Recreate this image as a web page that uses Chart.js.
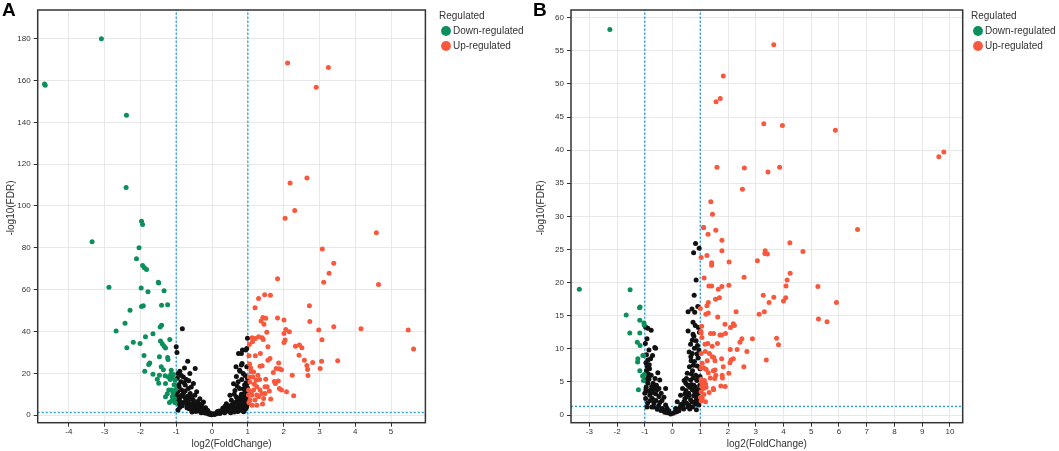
<!DOCTYPE html>
<html>
<head>
<meta charset="utf-8">
<script src="https://cdn.jsdelivr.net/npm/chart.js@4.4.1/dist/chart.umd.min.js"></script>
<style>
  body { margin: 0; background: #fff; font-family: "Liberation Sans", Arial, sans-serif; }
  .panel { position: absolute; top: 0; height: 451px; }
  .tag { position: absolute; top: -1px; font: bold 19px "Liberation Sans", Arial, sans-serif; color: #000; }
</style>
</head>
<body>
<div class="panel" style="left:0;width:530px"><canvas id="chartA"></canvas></div>
<div class="panel" style="left:530px;width:529px"><canvas id="chartB"></canvas></div>
<div class="tag" style="left:2px">A</div>
<div class="tag" style="left:533px">B</div>
<script>
// cut-offs: |log2FC| > 1 and FDR < 0.05
const fcCutoff = [-1, 1];
const fdrCutoff = 1.3;

// panel A  [log2(FoldChange), -log10(FDR)]
const aDown = [
  [-4.66,157.7],[-4.68,158.3],[-3.09,180],[-2.39,143.4],[-2.40,108.9],[-3.35,82.9],[-1.97,92.7],[-1.94,91.2],
  [-2.04,80],[-2.11,74.8],[-1.94,71.5],[-1.89,70.5],[-1.83,69.7],[-2.88,61.1],[-1.98,60.8],[-1.79,59],
  [-1.50,63.6],[-1.49,63.2],[-1.34,59.5],[-1.41,52.6],[-1.24,52.8],[-1.92,52.3],[-1.97,52],[-2.29,50.2],
  [-2.43,44],[-2.68,40.2],[-1.41,43],[-1.45,42.1],[-1.65,38.9],[-1.86,37.5],[-2.01,34.3],[-2.20,34.9],
  [-2.38,32.2],[-1.44,35.4],[-1.39,34.1],[-1.34,32.9],[-1.30,32.1],[-1.18,36.2],[-1.90,28.5],[-1.47,27.9],
  [-1.24,27.6],[-1.23,26.6],[-1.74,25],[-1.77,24.2],[-1.88,21],[-1.42,23.1],[-1.36,21.7],[-1.65,19.6],
  [-1.47,19.1],[-1.31,18.8],[-1.14,21.5],[-1.15,19.6],[-1.22,18.3],[-1.11,17.9],[-1.53,17.2],[-1.49,15.3],
  [-1.30,15.2],[-1.03,16.7],[-1.21,12],[-1.14,12],[-1.02,12.3],[-1.30,8.8],[-1.11,8.8],[-1.05,8],
  [-1.19,6.1],[-1.03,5.9],[-1.08,19.5],[-1.17,17],[-1.06,14.5],[-1.25,10.2],[-1.09,10.5],[-1.13,6.8]
];
const aUp = [
  [2.11,168.4],[3.25,166.2],[2.91,156.8],[2.65,113.4],[2.18,111],[2.31,97.9],[2.04,94.1],[4.59,87.2],
  [3.08,79.4],[3.40,72.6],[3.27,67.9],[1.83,65.2],[3.12,63.6],[4.65,62.5],[1.47,57.6],[1.63,57.3],
  [1.30,55.8],[1.20,51.4],[2.72,52.3],[2.73,44.8],[3.40,42.3],[4.16,41.3],[5.48,40.7],[5.63,31.6],
  [2.98,40.7],[3.07,36],[2.01,39.1],[2.06,41],[2.16,39.9],[1.83,46.4],[2.01,45.5],[1.42,46.7],
  [1.50,46.3],[1.37,45],[1.45,43.5],[1.53,39.6],[1.12,37],[1.21,36.7],[1.30,37.5],[1.40,37],
  [1.43,36.2],[1.04,33.8],[1.56,32.7],[2.33,32.9],[2.44,33.5],[2.51,32.2],[2.01,34.8],[2.04,35.9],
  [1.35,29.5],[1.62,27.1],[1.56,26.2],[2.58,26.2],[2.81,25.2],[3.06,25.8],[3.51,26],[2.43,28.7],
  [2.65,23.8],[2.67,21.8],[2.68,19],[3.02,22.3],[2.24,19.1],[1.86,25],[1.88,22.2],[1.94,21.7],
  [1.79,22.3],[1.71,20.4],[1.03,28.4],[1.21,28.4],[1.09,20.7],[1.16,20.6],[1.28,19.1],[1.33,17.1],
  [1.50,17.2],[1.34,23.4],[1.40,23.6],[1.74,16.1],[1.77,15.2],[1.85,16.3],[1.88,12.8],[1.94,12],
  [2.08,11.2],[2.28,9.3],[1.06,15.9],[1.16,12],[1.25,13.6],[1.34,12],[1.48,13.6],[1.54,13.6],
  [1.60,11.6],[1.02,9.6],[1.11,9.6],[1.25,9.6],[1.39,10.4],[1.48,10.4],[1.30,8.8],[1.44,8],
  [1.64,7.7],[1.06,7.2],[1.12,4.8],[1.25,4.8],[1.41,5.3],[1.20,7.2],[1.02,12],[1.04,18.3],
  [1.14,18.3],[1.23,16.7],[1.13,35.1],[1.05,24.5],[1.08,22.5],[1.03,6],[1.18,14.8],[1.09,11]
];
const aNs = [
  [-0.83,41.3],[-1.0,32.7],[-0.98,30.0],[-0.68,25.8],[-0.47,22.3],[-0.77,22.5],[-0.95,19.9],[-0.62,19.9],
  [-0.80,18.3],[-0.97,17.6],[-0.87,16.0],[-0.52,15.2],[-0.75,14.4],[-0.92,13.6],[-0.66,12.8],[-0.96,11.2],
  [-0.80,10.4],[-0.61,10.4],[-0.43,11.2],[-0.88,8.8],[-0.71,7.1],[-0.52,7.1],[-0.34,7.9],[-0.24,6.3],
  [-0.92,5.5],[-0.61,4.7],[-0.43,3.9],[-0.24,3.1],[-0.15,2.3],[-0.06,1.0],[-0.99,9.5],[-0.85,12],
  [-0.78,15.5],[-0.90,21],[-0.72,17],[-0.58,13.5],[-0.68,9],[-0.48,9.5],[-0.80,6],[-0.70,5],
  [-0.55,5.5],[-0.38,5],[-0.30,4.2],[-0.50,2.8],[-0.35,2.5],[-0.20,1.5],[-0.10,0.8],[-0.97,7.5],
  [-0.93,14.5],[-0.65,16.5],[-0.86,19],[-0.75,11.5],[-0.62,7.8],[-0.40,6.5],[-0.28,5.5],[-0.18,3.5],
  [-0.12,2.2],[-0.05,0.5],[-0.83,4.5],[-0.45,1.8],[-0.90,3.8],[-0.65,3.2],[-0.30,1.2],[-0.56,1.5],
  [-0.95,2.5],[-0.90,6.8],[-0.85,9.5],[-0.75,8.3],[-0.70,3.5],[-0.66,6.2],[-0.60,2.8],[-0.57,8.8],
  [-0.52,4.2],[-0.46,5.2],[-0.42,2.5],[-0.38,3.6],[-0.33,1.8],[-0.27,2.8],[-0.22,1.2],[-0.16,0.9],
  [-0.08,0.4],[-0.02,0.2],
  [0.03,0.7],[0.17,1.0],[0.31,2.3],[0.45,3.1],[0.59,4.3],[0.73,5.5],[0.87,6.3],[0.98,7.1],
  [0.40,5.5],[0.54,7.1],[0.68,8.7],[0.82,10.0],[0.96,11.2],[0.77,12.8],[0.91,14.4],[0.73,16.0],
  [0.99,17.6],[0.87,19.9],[0.77,21.5],[0.97,23.1],[0.82,24.0],[0.84,24.7],[0.67,23.1],[0.78,21.0],
  [0.82,29.5],[0.94,31.1],[0.99,36.8],[0.97,31.9],[0.85,31.1],[0.74,29.5],[0.50,9.5],[0.64,11.8],
  [0.36,4.3],[0.10,0.5],[0.25,1.5],[0.35,1.2],[0.50,2.0],[0.65,2.5],[0.80,3.0],[0.95,3.5],
  [0.60,6.0],[0.70,3.8],[0.85,4.5],[0.93,5.0],[0.45,2.0],[0.55,3.5],[0.20,2.0],[0.75,7.5],
  [0.90,8.5],[0.99,9.5],[0.62,10.0],[0.88,12.5],[0.95,15.5],[0.70,14.0],[0.83,17.0],[0.92,19.0],
  [0.60,15.0],[0.68,18.5],[0.99,13.0],[0.30,3.3],[0.15,1.8],[0.42,4.5],[0.58,5.2],[0.80,6.8],
  [0.90,2.5],[0.97,4.2],[0.72,1.8],[0.88,1.6],[0.52,1.2],
  [0.06,0.3],[0.12,0.9],[0.22,0.8],[0.27,1.9],[0.33,2.8],[0.38,1.7],[0.43,3.8],[0.48,2.6],
  [0.52,4.6],[0.57,2.2],[0.63,3.2],[0.66,5.8],[0.70,6.8],[0.77,4.2],[0.79,8.5],[0.84,5.6],
  [0.86,7.5],[0.91,6.5],[0.94,9.0],[0.96,6.5],[0.99,5.5],[0.92,11.0],[0.85,9.0],[0.97,15.0],
  [0.93,3.0],[0.83,2.2],[0.62,1.5],[0.40,2.5]
];

// panel B
const bDown = [
  [-2.26,58.2],[-3.36,19.0],[-1.53,18.9],[-1.17,16.3],[-1.67,15.1],[-1.18,14.3],[-1.03,13.9],[-1.02,13.6],
  [-1.54,12.4],[-1.18,12.4],[-1.27,11.0],[-1.17,10.5],[-1.07,9.0],[-1.25,8.5],[-1.26,8.0],[-1.18,6.7],
  [-1.08,5.9],[-1.02,6.1],[-1.05,5.2],[-1.23,3.8],[-1.19,16.2],[-1.04,9.0]
];
const bUp = [
  [3.65,55.9],[1.83,51.2],[1.72,47.8],[1.57,47.3],[3.29,44.0],[3.96,43.7],[5.87,43.0],[9.78,39.7],
  [9.60,39.0],[1.60,37.4],[2.59,37.3],[3.86,37.4],[3.44,36.7],[2.52,34.1],[1.38,32.2],[1.44,30.3],
  [6.67,28.0],[1.12,28.3],[1.28,27.3],[1.56,27.9],[1.78,26.4],[4.23,26.0],[4.70,24.7],[3.34,24.8],
  [3.33,24.4],[3.42,24.3],[1.78,24.8],[1.03,23.8],[1.24,24.1],[1.41,23.0],[1.41,22.6],[2.04,23.1],
  [3.06,23.3],[4.24,21.4],[4.13,20.4],[1.14,20.7],[2.58,20.8],[1.31,19.5],[1.41,19.5],[1.78,19.4],
  [2.03,19.6],[4.09,19.5],[5.24,19.4],[1.65,19.0],[3.27,18.1],[3.65,17.8],[4.08,17.7],[4.00,17.2],
  [3.48,17.0],[5.91,17.0],[1.29,17.0],[1.24,16.5],[1.55,17.5],[1.69,17.7],[1.00,16.1],[1.20,15.2],
  [1.29,15.4],[1.63,14.8],[2.29,15.6],[3.12,15.2],[3.31,15.6],[5.26,14.5],[5.57,14.1],[1.05,13.4],
  [1.89,13.7],[2.19,13.8],[2.23,13.5],[2.09,13.2],[1.03,12.4],[1.37,12.3],[1.48,12.3],[1.71,12.1],
  [1.77,12.1],[1.91,12.3],[1.06,11.7],[2.50,11.5],[2.88,11.5],[3.75,11.6],[1.62,10.8],[1.27,10.8],
  [1.17,10.7],[1.43,10.4],[2.43,11.0],[3.82,10.6],[2.08,9.9],[2.33,9.9],[2.68,9.6],[1.03,9.3],
  [1.33,9.3],[1.18,9.6],[1.43,8.8],[1.49,8.7],[1.77,8.5],[2.19,8.5],[3.38,8.3],[1.07,7.8],
  [1.25,8.2],[1.53,8.2],[2.07,7.9],[2.11,8.3],[2.57,7.3],[1.83,7.3],[1.03,7.1],[1.13,7.1],
  [1.21,6.9],[1.47,6.7],[1.53,6.8],[1.79,6.0],[2.03,6.3],[1.29,6.4],[1.03,5.4],[1.15,5.2],
  [1.36,5.6],[1.52,5.5],[1.80,5.6],[1.56,6.0],[1.06,4.8],[1.19,4.7],[1.05,4.3],[1.12,4.0],
  [1.21,4.2],[1.47,4.0],[1.74,4.4],[1.90,4.3],[1.32,3.4],[1.48,3.8],[1.03,3.5],[1.13,3.1],
  [1.01,2.7],[1.07,2.5],[1.19,2.0],[1.03,2.1],[1.12,28.3],[1.02,12.6]
];
const bNs = [
  [0.83,25.9],[0.96,25.2],[0.76,24.5],[0.85,20.4],[0.78,18.1],[0.91,16.4],[0.70,16.0],[0.56,15.6],
  [0.80,15.5],[0.56,12.7],[0.74,12.2],[0.77,11.9],[0.71,11.3],[0.85,11.2],[0.65,10.7],[0.79,10.1],
  [0.95,9.8],[0.71,9.3],[0.92,8.6],[0.67,8.2],[0.79,8.1],[0.61,7.3],[0.89,7.4],[0.72,6.7],
  [0.53,6.3],[0.84,6.0],[0.42,5.2],[0.65,5.3],[0.55,4.5],[0.77,4.5],[0.36,4.0],[0.48,3.7],
  [0.71,3.8],[0.89,3.8],[0.29,3.0],[0.53,2.8],[0.77,2.9],[0.95,2.8],[0.17,2.0],[0.41,2.0],
  [0.65,2.3],[0.89,2.0],[0.11,1.0],[0.35,1.3],[0.59,1.5],[0.84,1.7],[0.02,0.25],[0.23,0.65],
  [0.97,12.5],[0.90,10.5],[0.60,9.5],[0.82,13.5],[0.93,5.5],[0.62,4.2],[0.45,3.2],[0.98,4.5],
  [0.68,6.2],[0.50,1.8],[0.72,1.2],[0.95,1.5],[0.30,1.6],[0.15,0.5],[0.40,0.9],[0.88,5.2],
  [0.58,3.3],[0.80,3.4],[0.99,7.0],[0.75,7.5],[0.98,2.3],[0.48,4.8],[0.62,0.9],[0.86,0.8],
  [0.50,5.5],[0.60,3.0],[0.68,4.6],[0.75,5.6],[0.82,4.2],[0.90,3.2],[0.97,3.8],[0.86,2.4],
  [0.70,2.0],[0.45,2.5],[0.38,1.6],[0.26,1.1],[0.20,0.7],[0.08,0.4],[0.55,1.2],[0.78,1.9],
  [0.92,2.6],[0.99,5.8],[0.66,8.8],[0.88,9.2],[0.93,13.2],[0.74,14.0],
  [-0.97,13.3],[-0.89,13.1],[-0.77,12.8],[-0.64,10.2],[-0.61,10.1],[-0.98,10.8],[-0.94,9.1],[-0.89,8.3],
  [-0.84,7.6],[-0.91,7.3],[-0.83,7.0],[-0.94,6.7],[-0.53,6.4],[-0.77,6.0],[-0.98,5.3],[-0.46,5.3],
  [-0.89,4.8],[-0.70,4.8],[-0.58,4.5],[-0.95,4.2],[-0.77,3.8],[-0.49,4.0],[-0.25,4.0],[-1.00,3.3],
  [-0.82,3.0],[-0.61,3.2],[-0.41,3.3],[-0.97,2.5],[-0.73,2.5],[-0.49,2.8],[-0.31,2.7],[-0.67,1.8],
  [-0.46,1.9],[-0.25,1.5],[-0.37,1.0],[-0.55,0.86],[-0.13,0.65],[-0.07,0.15],[-0.19,0.35],[-0.31,0.65],
  [-0.85,9.8],[-0.92,11.5],[-0.72,9.0],[-0.88,5.8],[-0.66,4.0],[-0.80,2.2],[-0.90,1.8],[-0.60,2.2],
  [-0.38,2.2],[-0.20,1.0],[-0.75,1.2],
  [-0.96,3.8],[-0.86,3.6],[-0.72,3.4],[-0.56,3.8],[-0.92,1.2],[-0.68,1.2],[-0.50,1.4],[-0.42,0.7],
  [-0.28,0.4],[-0.85,5.4],[-0.75,4.3],[-0.63,5.5],[-0.79,8.5],[-0.96,7.9],[-0.87,6.2]
];

const DOWN = '#0b8f5b';
const UP = '#f9583d';
const NS = '#111111';
const CUT = '#249fd8';
const FONT = '"Liberation Sans", Arial, sans-serif';

const toXY = pts => pts.map(p => ({x: p[0], y: p[1]}));

const frame = {
  id: 'frame',
  afterDatasetsDraw(chart) {
    const {ctx, chartArea: a} = chart;
    ctx.save();
    ctx.strokeStyle = '#333';
    ctx.lineWidth = 1.5;
    ctx.strokeRect(a.left, a.top, a.right - a.left, a.bottom - a.top);
    ctx.restore();
  }
};

function pointSet(label, pts, color) {
  return {
    label: label, data: toXY(pts), backgroundColor: color, borderColor: color,
    borderWidth: 0, pointRadius: 2.5, pointHoverRadius: 2.5, pointStyle: 'circle', order: 1
  };
}

function cutLine(pts) {
  return {
    label: 'cutoff', data: toXY(pts), showLine: true, borderColor: CUT, borderWidth: 1.4,
    borderDash: [2, 2], pointRadius: 0, fill: false, order: 10
  };
}

function volcano(id, down, up, ns, o) {
  const datasets = [
    pointSet('Down-regulated', down, DOWN),
    pointSet('Up-regulated', up, UP),
    pointSet('Not significant', ns, NS),
    cutLine([[fcCutoff[0], o.yMin], [fcCutoff[0], o.yMax]]),
    cutLine([[fcCutoff[1], o.yMin], [fcCutoff[1], o.yMax]]),
    cutLine([[o.xMin, fdrCutoff], [o.xMax, fdrCutoff]])
  ];
  const tickFont = {family: FONT, size: 8};
  const titleFont = {family: FONT, size: 10};
  return new Chart(document.getElementById(id), {
    type: 'scatter',
    data: {datasets: datasets},
    options: {
      responsive: true,
      maintainAspectRatio: false,
      animation: false,
      events: [],
      layout: {padding: {top: 10, left: 0, right: 0, bottom: 0}},
      plugins: {
        tooltip: {enabled: false},
        legend: {
          position: 'right',
          align: 'start',
          maxWidth: o.legendWidth,
          title: {display: true, text: 'Regulated', position: 'start', color: '#333',
                  font: {family: FONT, size: 10, lineHeight: 1}, padding: {top: 1, bottom: 0}},
          labels: {
            usePointStyle: true, boxWidth: 4, boxHeight: 7, padding: 5, color: '#333',
            font: {family: FONT, size: 10},
            filter: item => item.text.indexOf('regulated') >= 0
          }
        }
      },
      scales: {
        x: {
          type: 'linear', position: 'bottom', min: o.xMin, max: o.xMax,
          afterFit: s => { s.height = 28.3; },
          grid: {color: '#e8e8e8', tickColor: '#333', tickLength: 4},
          border: {display: false},
          ticks: {stepSize: 1, includeBounds: false, autoSkip: false, padding: 0,
                  color: '#333', font: tickFont, maxRotation: 0},
          title: {display: true, text: 'log2(FoldChange)', color: '#333', font: titleFont,
                  padding: {top: 0, bottom: 1}}
        },
        y: {
          type: 'linear', position: 'left', min: o.yMin, max: o.yMax,
          afterFit: s => { s.width = o.yAxisWidth; },
          grid: {color: '#e8e8e8', tickColor: '#333', tickLength: 4},
          border: {display: false},
          ticks: {stepSize: o.yStep, includeBounds: false, autoSkip: false, padding: 3,
                  color: '#333', font: tickFont},
          title: {display: true, text: '      -log10(FDR)', color: '#333', font: titleFont,
                  padding: {top: 5, bottom: 0}}
        },
        gap: {
          type: 'linear', position: 'right', display: true,
          afterFit: s => { s.width = o.gapWidth; },
          grid: {display: false, drawTicks: false},
          border: {display: false},
          ticks: {display: false}
        }
      }
    },
    plugins: [frame]
  });
}

volcano('chartA', aDown, aUp, aNs, {
  xMin: -4.87, xMax: 5.96, yMin: -3.6, yMax: 193.7, yStep: 20,
  yAxisWidth: 37.7, gapWidth: 13.6, legendWidth: 91
});
volcano('chartB', bDown, bUp, bNs, {
  xMin: -3.66, xMax: 10.46, yMin: -1.16, yMax: 61.16, yStep: 5,
  yAxisWidth: 41, gapWidth: 8.3, legendWidth: 88
});
</script>
</body>
</html>
